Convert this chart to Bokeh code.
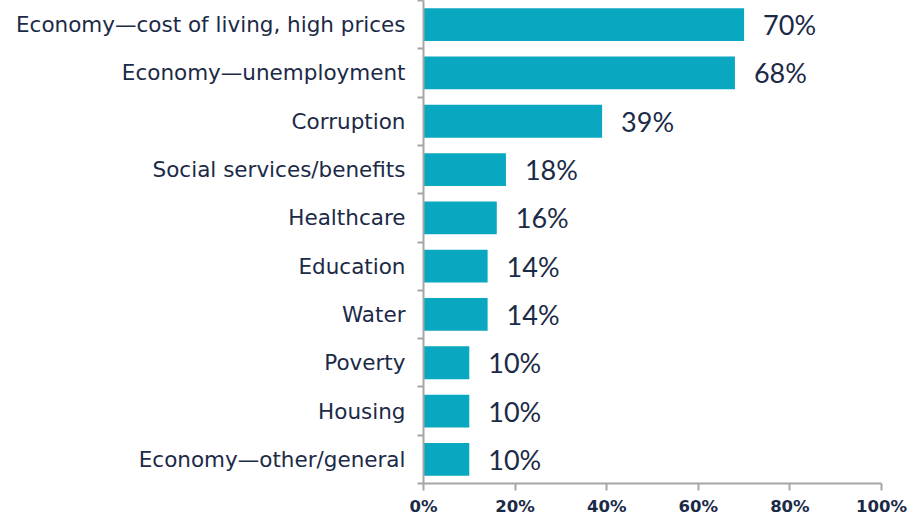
from bokeh.plotting import figure
from bokeh.models import ColumnDataSource, Range1d, FixedTicker, PrintfTickFormatter
from bokeh.core.properties import value
from bokeh.embed import file_html
from bokeh.resources import INLINE

categories = [
    "Economy\u2014cost of living, high prices",
    "Economy\u2014unemployment",
    "Corruption",
    "Social services/benefits",
    "Healthcare",
    "Education",
    "Water",
    "Poverty",
    "Housing",
    "Economy\u2014other/general",
]
values = [70, 68, 39, 18, 16, 14, 14, 10, 10, 10]
x_ticks = [0, 20, 40, 60, 80, 100]

NAVY = "#1B2A47"
BAR = "#0AA8C0"
AXIS = "#A6A6A6"

n = len(categories)
ys = [n - 0.5 - i for i in range(n)]
labels = [f"{v}%" for v in values]
src = ColumnDataSource(dict(y=ys, v=values, lbl=labels, cat=categories))

p = figure(width=907, height=518, output_backend="svg", toolbar_location=None,
           x_range=Range1d(0, 100), y_range=Range1d(0, n),
           min_border_left=423, min_border_right=26, min_border_top=0,
           min_border_bottom=34)
p.outline_line_color = None
p.xgrid.grid_line_color = None
p.ygrid.grid_line_color = None
p.background_fill_color = "white"
p.border_fill_color = "white"

p.hbar(y="y", left=0, right="v", height=0.68, source=src,
       fill_color=BAR, line_color=None)
p.text(x="v", y="y", text="lbl", source=src, x_offset=19,
       text_align="left", text_baseline="middle",
       text_font=value("Lato"), text_font_size="27px",
       text_color=NAVY)

# y axis
ya = p.yaxis[0]
ya.ticker = FixedTicker(ticks=ys, minor_ticks=list(range(n + 1)))
ya.major_label_overrides = {y: c for y, c in zip(ys, categories)}
ya.axis_line_color = AXIS
ya.axis_line_width = 2
ya.major_tick_line_color = None
ya.minor_tick_line_color = AXIS
ya.minor_tick_line_width = 2
ya.minor_tick_in = 0
ya.minor_tick_out = 6
ya.major_label_standoff = 12
ya.major_label_text_font = "DejaVu Sans"
ya.major_label_text_font_size = "21.5px"
ya.major_label_text_color = NAVY

# x axis
xa = p.xaxis[0]
xa.ticker = FixedTicker(ticks=x_ticks, minor_ticks=[])
xa.formatter = PrintfTickFormatter(format="%d%%")
xa.axis_line_color = AXIS
xa.axis_line_width = 2
xa.major_tick_line_color = AXIS
xa.major_tick_line_width = 2
xa.major_tick_in = 0
xa.major_tick_out = 7
xa.minor_tick_line_color = None
xa.major_label_standoff = 6
xa.major_label_text_font = "DejaVu Sans"
xa.major_label_text_font_style = "bold"
xa.major_label_text_font_size = "16.5px"
xa.major_label_text_color = NAVY

open("out.html", "w").write(file_html(p, INLINE))
